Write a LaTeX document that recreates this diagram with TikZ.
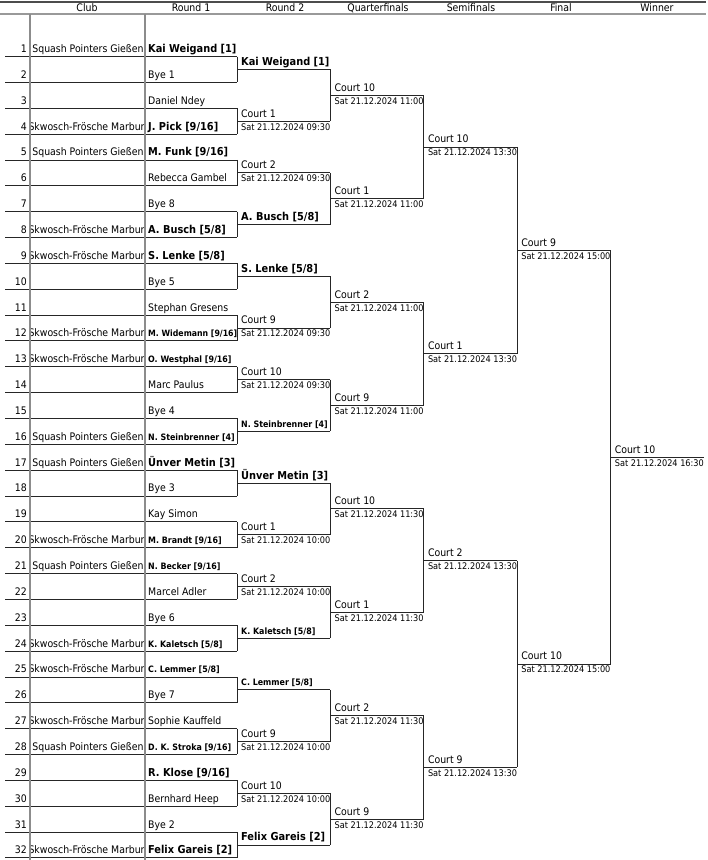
\documentclass[tikz,border=0pt]{standalone}
\usepackage{fontspec}
\IfFontExistsTF{DejaVu Sans Condensed}{%
  \setmainfont{DejaVu Sans Condensed}%
  \newcommand\fnorm{\fontsize{10.4}{12}\selectfont}%
  \newcommand\fdate{\fontsize{9.1}{11}\selectfont}%
  \newcommand\fbig{\fontsize{10.9}{13}\selectfont\bfseries}%
  \newcommand\fsmall{\fontsize{8.8}{10}\selectfont\bfseries}%
}{%
  \setmainfont{Liberation Sans}%
  \newcommand\fnorm{\fontsize{10.3}{12}\selectfont}%
  \newcommand\fdate{\fontsize{9.2}{11}\selectfont}%
  \newcommand\fbig{\fontsize{12}{14}\selectfont\bfseries}%
  \newcommand\fsmall{\fontsize{9.4}{11}\selectfont\bfseries}%
}
\usepackage{graphicx}
\newsavebox\fitbox
\newcommand\fitto[2]{\sbox\fitbox{#2}\ifdim\wd\fitbox>#1\relax\resizebox{#1}{!}{\usebox\fitbox}\else\usebox\fitbox\fi}
\newcommand\clubS{Squash Pointers Gießen}
\newcommand\clubK{Skwosch-Frösche Marburg}
\begin{document}
\begin{tikzpicture}[x=1pt,y=-1pt,
  ln/.style={line width=0.8pt,black!85},
  sepline/.style={line width=1.6pt,black!45},
  tx/.style={inner sep=0pt,anchor=base west},
  hd/.style={inner sep=0pt,anchor=base,font=\fnorm},
  numst/.style={inner sep=0pt,anchor=base east,font=\fnorm},
  clubst/.style={inner sep=0pt,anchor=base,font=\fnorm},
  clubwide/.style={inner sep=0pt,anchor=base west,font=\fnorm},
  nmn/.style={tx,font=\fnorm},
  nmb/.style={tx,font=\fbig},
  nms/.style={tx,font=\fsmall},
  court/.style={tx,font=\fnorm},
  datest/.style={tx,font=\fdate}]
\useasboundingbox (0,0) rectangle (708,860);
% header
\coordinate (hTL) at (0,1.5); \coordinate (hTR) at (706,1.5);
\coordinate (hBL) at (0,14);  \coordinate (hBR) at (706,14);
\draw[line width=2pt,black!70] (hTL) -- (hTR);
\draw[line width=1.6pt,black!40] (hBL) -- (hBR);
\node[hd] (hClub) at (87,11.5) {Club};
\node[hd] (hR1) at (191,11.5) {Round 1};
\node[hd] (hR2) at (285,11.5) {Round 2};
\node[hd] (hQF) at (378,11.5) {Quarterfinals};
\node[hd] (hSF) at (471,11.5) {Semifinals};
\node[hd] (hF) at (561,11.5) {Final};
\node[hd] (hW) at (657,11.5) {Winner};
% round 1 rows
\foreach \i/\nm/\st in {
 1/{Kai Weigand [1]}/b, 2/{Bye 1}/n, 3/{Daniel Ndey}/n, 4/{J. Pick [9/16]}/b,
 5/{M. Funk [9/16]}/b, 6/{Rebecca Gambel}/n, 7/{Bye 8}/n, 8/{A. Busch [5/8]}/b,
 9/{S. Lenke [5/8]}/b, 10/{Bye 5}/n, 11/{Stephan Gresens}/n, 12/{M. Widemann [9/16]}/s,
 13/{O. Westphal [9/16]}/s, 14/{Marc Paulus}/n, 15/{Bye 4}/n, 16/{N. Steinbrenner [4]}/s,
 17/{Ünver Metin [3]}/b, 18/{Bye 3}/n, 19/{Kay Simon}/n, 20/{M. Brandt [9/16]}/s,
 21/{N. Becker [9/16]}/s, 22/{Marcel Adler}/n, 23/{Bye 6}/n, 24/{K. Kaletsch [5/8]}/s,
 25/{C. Lemmer [5/8]}/s, 26/{Bye 7}/n, 27/{Sophie Kauffeld}/n, 28/{D. K. Stroka [9/16]}/s,
 29/{R. Klose [9/16]}/b, 30/{Bernhard Heep}/n, 31/{Bye 2}/n, 32/{Felix Gareis [2]}/b}{
  \pgfmathsetmacro\u{56.5+(\i-1)*25.85}
  \coordinate (r\i L) at (5,\u);
  \coordinate (r\i R) at (237,\u);
  \draw[ln] (r\i L) -- (r\i R);
  \node[numst] (n\i) at (27,\u-4) {\i};
  \node[nm\st] (p\i) at (148,\u-4) {\fitto{89pt}{\nm}};
}
% clubs (cut at the cell edges)
\foreach \i in {1,5,16,17,21,28}{
  \pgfmathsetmacro\u{56.5+(\i-1)*25.85}
  \begin{scope}
    \clip (31,\u-20) rectangle (144.5,\u);
    \node[clubst] (c\i) at (88,\u-4) {\makebox[112pt][c]{\clubS}};
  \end{scope}
}
\foreach \i in {4,8,9,12,13,20,24,25,27,32}{
  \pgfmathsetmacro\u{56.5+(\i-1)*25.85}
  \begin{scope}
    \clip (31,\u-20) rectangle (144.5,\u);
    \node[clubwide] (c\i) at (28.3,\u-4) {\clubK};
  \end{scope}
}
% column separators
\coordinate (v1t) at (30,14); \coordinate (v1b) at (30,860);
\coordinate (v2t) at (145,14); \coordinate (v2b) at (145,860);
\draw[sepline] (v1t) -- (v1b);
\draw[sepline] (v2t) -- (v2b);
% round 2 lines
\foreach \k in {1,...,16}{
  \pgfmathsetmacro\m{56.5+(2*\k-1.5)*25.85}
  \pgfmathtruncatemacro\ia{2*\k-1}
  \pgfmathtruncatemacro\ib{2*\k}
  \coordinate (a\k L) at (237,\m);
  \coordinate (a\k R) at (330.4,\m);
  \draw[ln] (r\ia R) -- (r\ib R);
  \draw[ln] (a\k L) -- (a\k R);
}
% quarterfinal lines
\foreach \k in {1,...,8}{
  \pgfmathsetmacro\m{56.5+(4*\k-2.5)*25.85}
  \pgfmathtruncatemacro\ia{2*\k-1}
  \pgfmathtruncatemacro\ib{2*\k}
  \coordinate (q\k L) at (330.4,\m);
  \coordinate (q\k R) at (423.8,\m);
  \draw[ln] (a\ia R) -- (a\ib R);
  \draw[ln] (q\k L) -- (q\k R);
}
% semifinal lines
\foreach \k in {1,...,4}{
  \pgfmathsetmacro\m{56.5+(8*\k-4.5)*25.85}
  \pgfmathtruncatemacro\ia{2*\k-1}
  \pgfmathtruncatemacro\ib{2*\k}
  \coordinate (s\k L) at (423.8,\m);
  \coordinate (s\k R) at (517.2,\m);
  \draw[ln] (q\ia R) -- (q\ib R);
  \draw[ln] (s\k L) -- (s\k R);
}
% final lines
\foreach \k in {1,2}{
  \pgfmathsetmacro\m{56.5+(16*\k-8.5)*25.85}
  \pgfmathtruncatemacro\ia{2*\k-1}
  \pgfmathtruncatemacro\ib{2*\k}
  \coordinate (f\k L) at (517.2,\m);
  \coordinate (f\k R) at (610.6,\m);
  \draw[ln] (s\ia R) -- (s\ib R);
  \draw[ln] (f\k L) -- (f\k R);
}
% winner line
\coordinate (w1L) at (610.6,{56.5+15.5*25.85});
\coordinate (w1R) at (704,{56.5+15.5*25.85});
\draw[ln] (f1R) -- (f2R);
\draw[ln] (w1L) -- (w1R);
% round 2 winners
\foreach \k/\nm in {1/{Kai Weigand [1]},4/{A. Busch [5/8]},5/{S. Lenke [5/8]},9/{Ünver Metin [3]},16/{Felix Gareis [2]}}{
  \node[nmb] (a\k t) at ([shift={(4,-4)}]a\k L) {\fitto{89pt}{\nm}};
}
\foreach \k/\nm in {8/{N. Steinbrenner [4]},12/{K. Kaletsch [5/8]},13/{C. Lemmer [5/8]}}{
  \node[nms] (a\k t) at ([shift={(4,-4)}]a\k L) {\fitto{89pt}{\nm}};
}
% courts and times
\foreach \p/\c/\t in {a2/1/09:30,a3/2/09:30,a6/9/09:30,a7/10/09:30,
  a10/1/10:00,a11/2/10:00,a14/9/10:00,a15/10/10:00,
  q1/10/11:00,q2/1/11:00,q3/2/11:00,q4/9/11:00,
  q5/10/11:30,q6/1/11:30,q7/2/11:30,q8/9/11:30,
  s1/10/13:30,s2/1/13:30,s3/2/13:30,s4/9/13:30,
  f1/9/15:00,f2/10/15:00,w1/10/16:30}{
  \node[court] (\p t) at ([shift={(4,-4)}]\p L) {Court \c};
  \node[datest] (\p d) at ([shift={(4,9)}]\p L) {Sat 21.12.2024 \t};
}
\end{tikzpicture}
\end{document}
